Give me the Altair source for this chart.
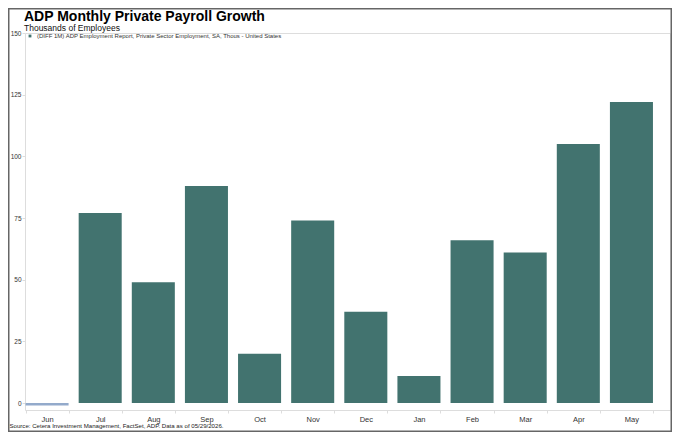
import altair as alt
import pandas as pd

months = ["Jun", "Jul", "Aug", "Sep", "Oct", "Nov", "Dec", "Jan", "Feb", "Mar", "Apr", "May"]
values = [-1, 77, 49, 88, 20, 74, 37, 11, 66, 61, 105, 122]
series_name = "(DIFF 1M) ADP Employment Report, Private Sector Employment, SA, Thous - United States"
y_ticks = [0, 25, 50, 75, 100, 125, 150]
title_text = "ADP Monthly Private Payroll Growth"
subtitle_text = "Thousands of Employees"
source_text = "Source: Cetera Investment Management, FactSet, ADP. Data as of 05/29/2026."

BAR = "#42736F"
NEG = "#93AACB"
FONT = "Liberation Sans"

df = pd.DataFrame({"month": months, "value": values})
df["kind"] = [series_name if v >= 0 else "neg" for v in values]

W, H = 645, 377

bars = alt.Chart(df).mark_bar().encode(
    x=alt.X("month:N", sort=months, title=None,
            scale=alt.Scale(range=[-4.5, 633], paddingInner=0.19, paddingOuter=0.095),
            axis=alt.Axis(labelAngle=0, domain=False, ticks=True, tickBand="extent",
                          tickSize=3, tickColor="#dddddd", labelPadding=2,
                          labelFontSize=7.5, labelColor="#333333", labelFont=FONT)),
    y=alt.Y("value:Q", title=None,
            scale=alt.Scale(domain=[-2.8, 150], nice=False, zero=False),
            axis=alt.Axis(values=y_ticks, domain=False, grid=False, tickSize=3,
                          tickColor="#dddddd", labelPadding=1, labelFontSize=6.5,
                          labelColor="#333333", labelFont=FONT)),
    color=alt.Color("kind:N",
                    scale=alt.Scale(domain=[series_name, "neg"], range=[BAR, NEG]),
                    legend=alt.Legend(orient="none", legendX=2, legendY=0, title=None,
                                      values=[series_name], symbolType="square",
                                      symbolSize=8, labelFontSize=6, labelFont=FONT,
                                      labelColor="#333333", labelOffset=4, padding=0,
                                      labelLimit=500)),
)

title = alt.Chart(pd.DataFrame({"t": [title_text]})).mark_text(
    align="left", baseline="alphabetic", fontSize=14, fontWeight="bold", font=FONT, color="#000000"
).encode(x=alt.value(-1), y=alt.value(-12.5), text="t:N")

subtitle = alt.Chart(pd.DataFrame({"t": [subtitle_text]})).mark_text(
    align="left", baseline="alphabetic", fontSize=8.5, font=FONT, color="#111111"
).encode(x=alt.value(-1), y=alt.value(-2.5), text="t:N")

src = alt.Chart(pd.DataFrame({"t": [source_text]})).mark_text(
    align="left", baseline="middle", fontSize=6.1, font=FONT, color="#222222"
).encode(x=alt.value(-15.5), y=alt.value(H + 16), text="t:N")

border = alt.Chart(pd.DataFrame({"a": [0]})).mark_rect(
    fill="transparent", stroke="#666666", strokeWidth=1.5
).encode(x=alt.value(-16.25), x2=alt.value(W + 1.25), y=alt.value(-24.25), y2=alt.value(H + 21.25))

chart = alt.layer(bars, title, subtitle, src, border).properties(
    width=W, height=H,
    autosize=alt.AutoSizeParams(type="none"),
    padding={"left": 17, "top": 25, "right": 2, "bottom": 22},
).configure_view(stroke="#e4e4e4", strokeWidth=1).configure(background="white")

chart.save("out.html", embed_options={"renderer": "svg", "actions": False})
